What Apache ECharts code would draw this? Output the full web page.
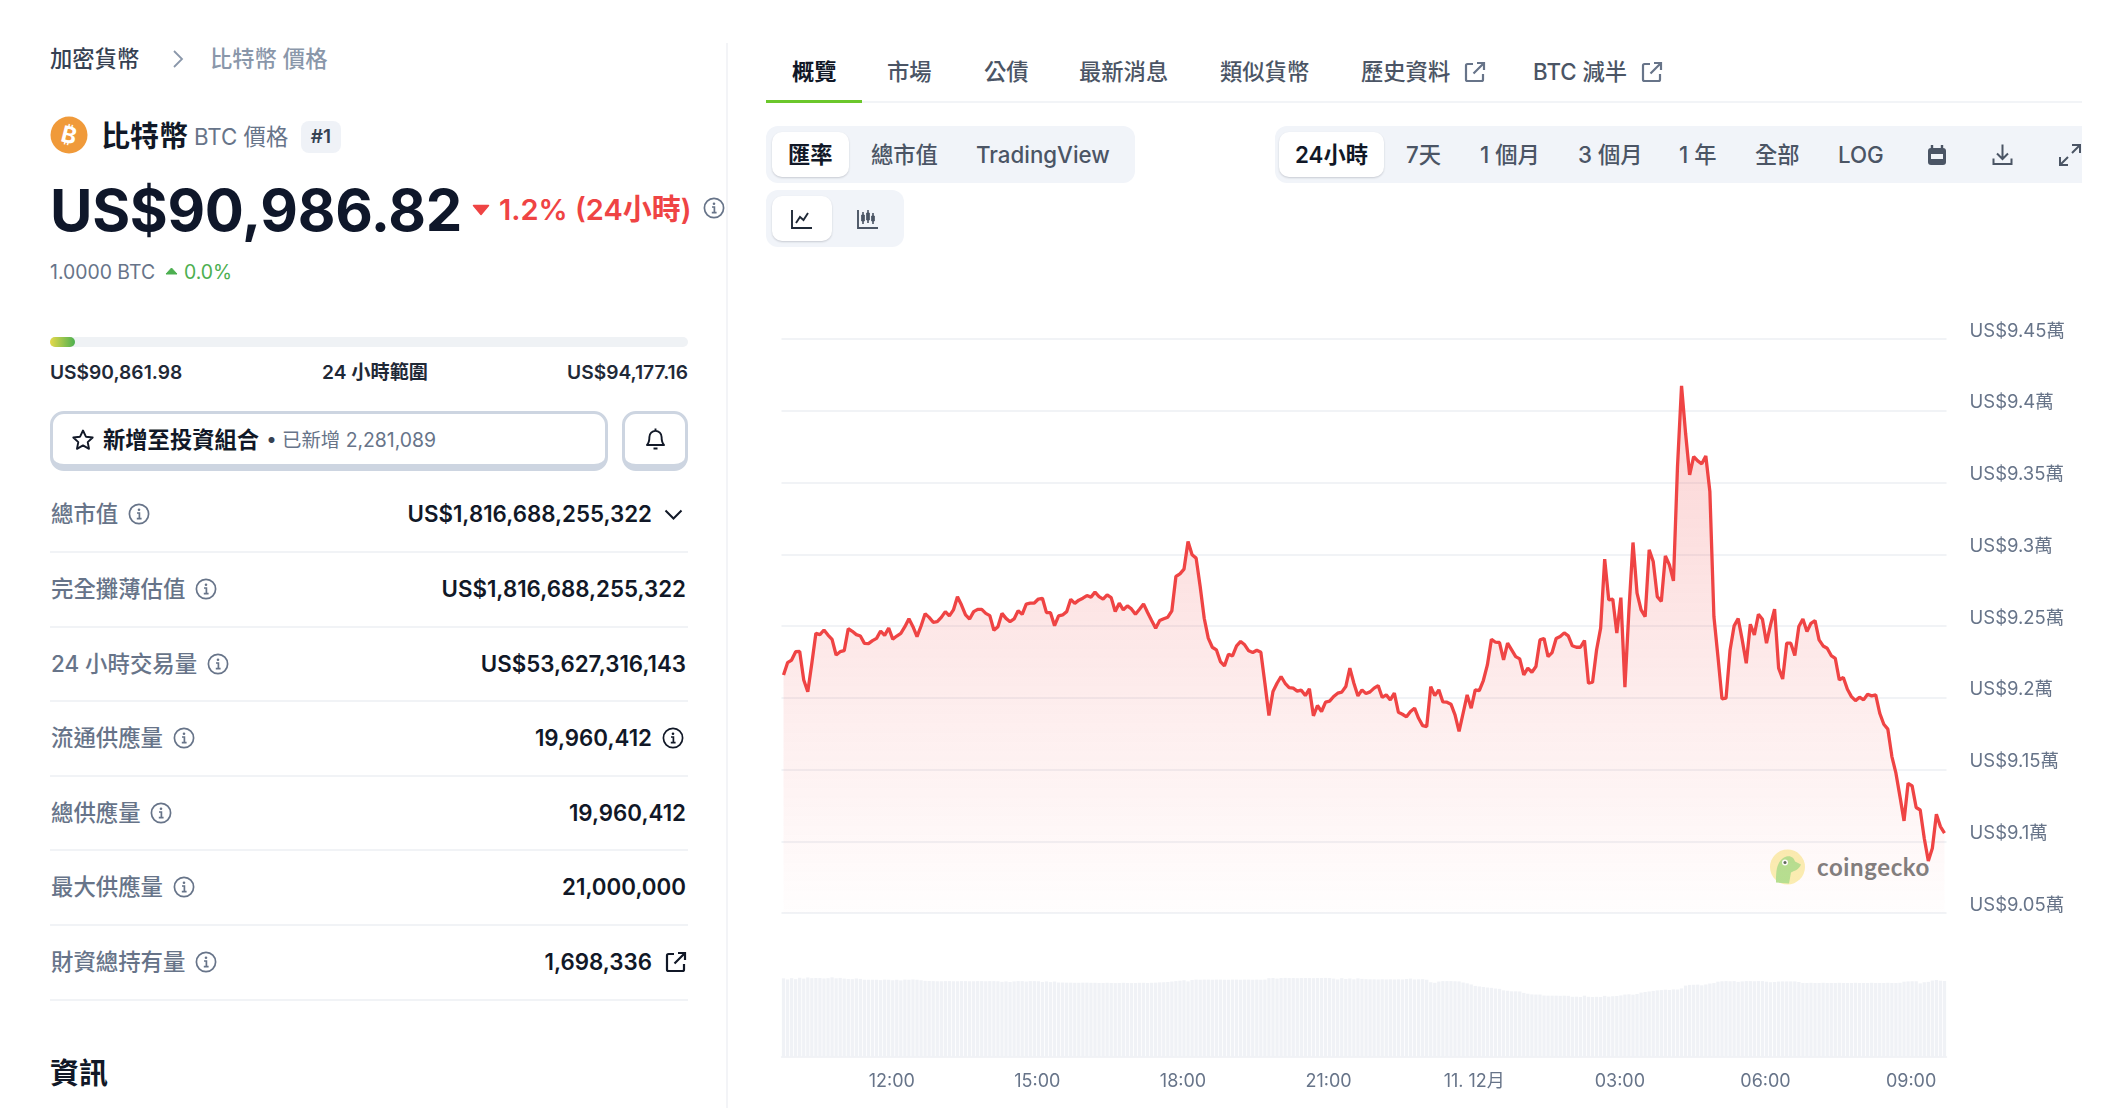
<!DOCTYPE html>
<html>
<head>
<meta charset="utf-8">
<title>比特幣 價格</title>
<script src="https://cdn.jsdelivr.net/npm/echarts@6/dist/echarts.min.js"></script>
<style>
html,body{margin:0;padding:0;background:#fff;}
body{width:2108px;height:1108px;overflow:hidden;position:relative;font-family:Inter,"Noto Sans CJK TC",sans-serif;color:#111827;}
.a{position:absolute;white-space:nowrap;transform:translateY(-50%);line-height:1.2;}
.b{position:absolute;}
.lab{font-size:22.4px;font-weight:500;color:#677489;left:51px;}
.val{font-size:22.3px;font-weight:600;color:#111827;}
.tab{font-size:22.3px;font-weight:500;color:#4b5565;top:72px;}
.sel{font-size:22.3px;font-weight:500;color:#4b5565;top:155px;}
.div{position:absolute;left:50px;width:638px;height:1.5px;background:#f1f3f6;}
svg.a{overflow:visible;}
#chart{position:absolute;left:760px;top:300px;width:1348px;height:808px;}
</style>
</head>
<body>
<svg width="0" height="0" style="position:absolute">
	<symbol id="info" viewBox="0 0 22 22"><circle cx="11" cy="11" r="9.6" fill="none" stroke="currentColor" stroke-width="1.7"/><circle cx="11" cy="6.8" r="1.3" fill="currentColor"/><path d="M9 10h2.4v5.2M8.8 15.6h4.8" fill="none" stroke="currentColor" stroke-width="1.7"/></symbol>
	<symbol id="ext" viewBox="0 0 22 22"><path d="M9 3H3.5A1.5 1.5 0 0 0 2 4.5v14A1.5 1.5 0 0 0 3.5 20h14a1.5 1.5 0 0 0 1.5-1.5V13M13 2h7v7M20 2 9.5 12.5" fill="none" stroke="currentColor" stroke-width="2.2"/></symbol>
</svg>

<!-- 左欄 -->
<div class="a" style="left:50px;top:59px;font-size:22.3px;font-weight:500;color:#364152">加密貨幣</div>
<svg class="a" style="left:172px;top:59px" width="12" height="20" viewBox="0 0 12 20"><path d="M2 2l8 8-8 8" fill="none" stroke="#8a97aa" stroke-width="1.8"/></svg>
<div class="a" style="left:210px;top:59px;font-size:22.3px;font-weight:500;color:#8a97aa">比特幣 價格</div>

<svg class="a" style="left:50px;top:135px" width="38" height="38" viewBox="0 0 38 38"><circle cx="19" cy="19" r="18.5" fill="#f09a3a"/><text x="19" y="27" text-anchor="middle" font-size="23" font-weight="700" fill="#fff" transform="rotate(14 19 19)" font-family="Inter">₿</text></svg>
<div class="a" style="left:101px;top:137px;font-size:29px;font-weight:700;color:#111827">比特幣</div>
<div class="a" style="left:194px;top:137px;font-size:22.3px;font-weight:400;color:#677489">BTC 價格</div>
<div class="a" style="left:301px;top:137px;width:40px;height:32px;line-height:32px;text-align:center;background:#eff2f7;border-radius:8px;font-size:19px;font-weight:600;color:#364152">#1</div>

<div class="a" style="left:50px;top:211px;font-size:58px;font-weight:700;color:#0f172a;letter-spacing:-0.3px">US$90,986.82</div>
<svg class="a" style="left:472px;top:210px" width="18" height="11" viewBox="0 0 18 11"><path d="M1.5 1h15L9 10z" fill="#ef4444" stroke="#ef4444" stroke-linejoin="round" stroke-width="1.5"/></svg>
<div class="a" style="left:499px;top:210px;font-size:29px;font-weight:600;color:#ef4444">1.2% (24小時)</div>
<svg class="a" style="left:703px;top:208px;color:#677489" width="22" height="22"><use href="#info"/></svg>

<div class="a" style="left:50px;top:273px;font-size:19.4px;font-weight:400;color:#677489">1.0000 BTC</div>
<svg class="a" style="left:165px;top:271px" width="13" height="8" viewBox="0 0 13 8"><path d="M1 7h11L6.5 1z" fill="#4caf50" stroke="#4caf50" stroke-linejoin="round"/></svg>
<div class="a" style="left:184px;top:273px;font-size:19.4px;font-weight:400;color:#4caf50">0.0%</div>

<div class="b" style="left:50px;top:337px;width:638px;height:10px;background:#eff2f5;border-radius:5px"></div>
<div class="b" style="left:50px;top:337px;width:25px;height:10px;background:linear-gradient(90deg,#e6d94a,#4cb050);border-radius:5px"></div>
<div class="a" style="left:50px;top:373px;font-size:19.2px;font-weight:600;color:#1f2937">US$90,861.98</div>
<div class="a" style="left:322px;top:373px;font-size:19.2px;font-weight:600;color:#1f2937">24 小時範圍</div>
<div class="a" style="right:1420px;top:373px;font-size:19.2px;font-weight:600;color:#1f2937">US$94,177.16</div>

<div class="b" style="left:50px;top:411px;width:552px;height:50px;border:3px solid #cdd5e1;border-bottom-width:7px;border-radius:14px;background:#fff"></div>
<svg class="a" style="left:71px;top:440px" width="24" height="24" viewBox="0 0 24 24"><path d="M12 2.5l2.9 6.2 6.8.8-5 4.6 1.3 6.7-6-3.4-6 3.4 1.3-6.7-5-4.6 6.8-.8z" fill="none" stroke="#111827" stroke-width="1.9" stroke-linejoin="round"/></svg>
<div class="a" style="left:103px;top:440px;font-size:22.3px;font-weight:600;color:#111827">新增至投資組合</div>
<div class="a" style="left:267px;top:440px;font-size:19px;font-weight:700;color:#364152">•</div>
<div class="a" style="left:282px;top:441px;font-size:19.4px;font-weight:400;color:#677489">已新增 2,281,089</div>
<div class="b" style="left:622px;top:411px;width:60px;height:50px;border:3px solid #cdd5e1;border-bottom-width:7px;border-radius:14px;background:#fff"></div>
<svg class="a" style="left:645px;top:439px" width="21" height="24" viewBox="0 0 21 24"><path d="M2 18c2-2 2.4-4 2.4-8a6.1 6.1 0 0 1 12.2 0c0 4 .4 6 2.4 8zM10.5 1.5v2M8.5 21.5h4" fill="none" stroke="#111827" stroke-width="1.9" stroke-linejoin="round"/></svg>

<div class="a lab" style="top:514px">總市值</div>
<svg class="a" style="left:128px;top:514px;color:#677489" width="22" height="22"><use href="#info"/></svg>
<div class="a val" style="right:1456px;top:514px">US$1,816,688,255,322</div>
<svg class="a" style="left:664px;top:515px" width="19" height="12" viewBox="0 0 19 12"><path d="M1.5 1.5l8 8 8-8" fill="none" stroke="#111827" stroke-width="2"/></svg>
<div class="div" style="top:551px"></div>

<div class="a lab" style="top:589px">完全攤薄估值</div>
<svg class="a" style="left:195px;top:589px;color:#677489" width="22" height="22"><use href="#info"/></svg>
<div class="a val" style="right:1422px;top:589px">US$1,816,688,255,322</div>
<div class="div" style="top:626px"></div>

<div class="a lab" style="top:664px">24 小時交易量</div>
<svg class="a" style="left:207px;top:664px;color:#677489" width="22" height="22"><use href="#info"/></svg>
<div class="a val" style="right:1422px;top:664px">US$53,627,316,143</div>
<div class="div" style="top:700px"></div>

<div class="a lab" style="top:738px">流通供應量</div>
<svg class="a" style="left:173px;top:738px;color:#677489" width="22" height="22"><use href="#info"/></svg>
<div class="a val" style="right:1456px;top:738px">19,960,412</div>
<svg class="a" style="left:662px;top:738px;color:#111827" width="22" height="22"><use href="#info"/></svg>
<div class="div" style="top:775px"></div>

<div class="a lab" style="top:813px">總供應量</div>
<svg class="a" style="left:150px;top:813px;color:#677489" width="22" height="22"><use href="#info"/></svg>
<div class="a val" style="right:1422px;top:813px">19,960,412</div>
<div class="div" style="top:849px"></div>

<div class="a lab" style="top:887px">最大供應量</div>
<svg class="a" style="left:173px;top:887px;color:#677489" width="22" height="22"><use href="#info"/></svg>
<div class="a val" style="right:1422px;top:887px">21,000,000</div>
<div class="div" style="top:924px"></div>

<div class="a lab" style="top:962px">財資總持有量</div>
<svg class="a" style="left:195px;top:962px;color:#677489" width="22" height="22"><use href="#info"/></svg>
<div class="a val" style="right:1456px;top:962px">1,698,336</div>
<svg class="a" style="left:665px;top:962px;color:#111827" width="22" height="22"><use href="#ext"/></svg>
<div class="div" style="top:999px"></div>

<div class="a" style="left:50px;top:1074px;font-size:29px;font-weight:700;color:#111827">資訊</div>
<div class="b" style="left:726px;top:43px;width:1.5px;height:1065px;background:#f3f4f7"></div>

<!-- 分頁 -->
<div class="a tab" style="left:792px;font-weight:600;color:#111827">概覽</div>
<div class="a tab" style="left:887px">市場</div>
<div class="a tab" style="left:984px">公債</div>
<div class="a tab" style="left:1079px">最新消息</div>
<div class="a tab" style="left:1220px">類似貨幣</div>
<div class="a tab" style="left:1361px">歷史資料</div>
<svg class="a" style="left:1464px;top:72px;color:#677489" width="22" height="22"><use href="#ext"/></svg>
<div class="a tab" style="left:1533px">BTC 減半</div>
<svg class="a" style="left:1641px;top:72px;color:#677489" width="22" height="22"><use href="#ext"/></svg>
<div class="b" style="left:766px;top:101px;width:1316px;height:2px;background:#f2f4f7"></div>
<div class="b" style="left:766px;top:100px;width:96px;height:3px;background:#6bc72b"></div>

<!-- 選項列 -->
<div class="b" style="left:766px;top:126px;width:369px;height:57px;background:#f1f4f9;border-radius:12px"></div>
<div class="b" style="left:772px;top:132px;width:77px;height:45px;background:#fff;border-radius:10px;box-shadow:0 1px 2px rgba(16,24,40,.18)"></div>
<div class="a sel" style="left:788px;font-weight:600;color:#111827">匯率</div>
<div class="a sel" style="left:871px">總市值</div>
<div class="a sel" style="left:976px">TradingView</div>

<div class="b" style="left:1275px;top:126px;width:807px;height:57px;background:#f1f4f9;border-radius:12px 0 0 12px"></div>
<div class="b" style="left:1279px;top:132px;width:105px;height:45px;background:#fff;border-radius:10px;box-shadow:0 1px 2px rgba(16,24,40,.18)"></div>
<div class="a sel" style="left:1295px;font-weight:600;color:#111827">24小時</div>
<div class="a sel" style="left:1406px">7天</div>
<div class="a sel" style="left:1480px">1 個月</div>
<div class="a sel" style="left:1578px">3 個月</div>
<div class="a sel" style="left:1679px">1 年</div>
<div class="a sel" style="left:1755px">全部</div>
<div class="a sel" style="left:1838px">LOG</div>
<svg class="a" style="left:1927px;top:155px" width="20" height="22" viewBox="0 0 20 22"><path d="M5 1v4M15 1v4" stroke="#4b5565" stroke-width="2.4"/><rect x="1" y="4" width="18" height="17" rx="3" fill="#4b5565"/><rect x="4" y="10" width="12" height="5" fill="#f1f4f9"/></svg>
<svg class="a" style="left:1992px;top:155px" width="21" height="23" viewBox="0 0 21 23"><path d="M10.5 1v14M5 10l5.5 5.5L16 10M1.5 15v5.5h18V15" fill="none" stroke="#4b5565" stroke-width="2"/></svg>
<svg class="a" style="left:2058px;top:155px" width="24" height="24" viewBox="0 0 24 24"><path d="M14 2h8v8M22 2l-8 8M10 22H2v-8M2 22l8-8" fill="none" stroke="#4b5565" stroke-width="2"/></svg>

<div class="b" style="left:766px;top:190px;width:138px;height:57px;background:#f1f4f9;border-radius:12px"></div>
<div class="b" style="left:772px;top:196px;width:60px;height:45px;background:#fff;border-radius:10px;box-shadow:0 1px 2px rgba(16,24,40,.18)"></div>
<svg class="a" style="left:791px;top:219px" width="22" height="20" viewBox="0 0 22 20"><path d="M1 1v18h20M5 14l4-6 3.5 3L17 4" fill="none" stroke="#1f2937" stroke-width="1.9"/></svg>
<svg class="a" style="left:857px;top:219px" width="22" height="20" viewBox="0 0 22 20"><path d="M1 1v18h20" fill="none" stroke="#4b5565" stroke-width="1.9"/><path d="M6 3v12M11 1v13M16 4v11" stroke="#4b5565" stroke-width="1.6"/><path d="M4.7 6h2.6v6H4.7zM9.7 4h2.6v7H9.7zM14.7 7h2.6v5h-2.6z" fill="#4b5565" stroke="#4b5565"/></svg>

<!-- 浮水印 -->
<svg class="a" style="left:1770px;top:867px" width="35" height="35" viewBox="0 0 35 35"><circle cx="17.5" cy="17.5" r="17.5" fill="#fbf0b4"/><path d="M6 33c0-10 0-20 8-25 6-3 10 0 11 4l6 3c-2 5-6 6-10 8l-2 11z" fill="#b6e292"/><circle cx="15" cy="13" r="3" fill="#fff"/><circle cx="15" cy="13" r="1.5" fill="#5a6b5a"/></svg>
<div class="a" style="left:1817px;top:867px;font-size:24px;font-weight:700;color:#7f8080;font-family:Lato,Inter,sans-serif;letter-spacing:0.6px">coingecko</div>

<div id="chart"></div>

<script>
// 價格 (USD)，每 5 分鐘一筆
var priceData = [
	92159,92244,92263,92321,92323,92124,92042,92240,92449,92440,92472,92437,92407,92298,92321,92328,92481,92463,92440,92430,
	92379,92377,92398,92414,92465,92435,92486,92409,92430,92449,92495,92551,92495,92426,92500,92586,92560,92526,92530,92560,
	92600,92570,92612,92704,92646,92577,92549,92600,92616,92616,92588,92572,92470,92495,92588,92553,92530,92549,92607,92581,
	92653,92660,92660,92688,92693,92593,92593,92502,92570,92577,92600,92686,92658,92680,
	92694,92712,92701,92736,92705,92687,92717,92698,92601,92659,92612,92640,92619,92582,92617,92654,92594,92538,92485,92538,
	92550,92561,92606,92845,92863,92896,93089,92996,92973,92775,92554,92415,92352,92334,92252,92222,92303,92292,92362,92392,
	92369,92327,92315,92331,92317,92101,91876,92043,92101,92148,92101,92071,92067,92046,92053,92015,92062,91874,91946,91904,
	91969,91976,92009,92032,92039,92078,92206,92101,92013,92055,92029,92041,92067,
	92085,92002,92020,91985,92032,91899,91885,91867,91904,91927,91857,91806,91799,92078,92015,92055,91971,91969,91955,91881,
	91765,91892,92020,91927,92055,92050,92120,92229,92408,92387,92385,92264,92380,92334,92287,92271,92160,92206,92178,92218,
	92403,92413,92287,92315,92413,92427,92452,92431,92362,92352,92352,92399,92101,92108,92334,92485,92966,92682,92687,92450,
	92698,92074,92612,93082,92729,92612,92566,93031,92949,92705,92671,92989,92926,
	92814,93611,94173,93843,93553,93681,93651,93630,93685,93437,92566,92287,91992,91997,92333,92501,92552,92403,92240,92512,
	92438,92582,92547,92380,92508,92617,92206,92131,92380,92380,92294,92496,92549,92461,92519,92538,92403,92361,92345,92294,
	92275,92124,92141,92059,92008,91980,92004,91985,92024,92013,92020,91892,91815,91781,91590,91474,91311,91142,91404,91386,
	91235,91218,91021,90863,90951,91188,91102,91056
];
// 成交量 (十億美元)
var volumeData = [
	56.2,55.4,56.3,55.6,56.6,56.0,56.8,56.3,56.4,56.4,56.1,56.3,56.9,56.2,56.5,56.0,55.7,55.6,56.1,55.8,
	55.2,55.2,55.2,55.2,54.9,55.3,55.2,54.8,55.2,54.7,55.3,55.2,55.4,55.2,54.8,54.4,54.3,54.2,
	54.1,54.1,54.2,54.2,54.1,54.1,54.2,54.2,54.1,54.1,54.2,54.2,54.1,54.2,54.2,54.1,53.7,54.0,53.6,54.0,54.2,
	54.2,53.9,54.2,54.2,54.1,53.6,54.0,53.5,53.9,53.2,53.2,53.1,53.1,53.0,53.0,53.1,53.1,53.0,
	53.0,52.9,52.9,53.0,52.9,52.8,52.9,53.0,52.9,52.8,52.9,53.0,53.0,52.9,53.0,53.1,53.3,53.4,53.6,53.9,
	54.2,54.5,54.8,54.0,55.0,55.3,55.2,55.3,55.3,55.2,55.3,55.3,55.2,55.2,55.3,55.3,55.2,55.3,55.3,55.2,55.3,55.2,55.3,
	56.3,56.4,56.0,56.4,56.5,56.4,56.4,56.3,56.4,56.4,56.4,56.3,56.4,56.4,56.5,56.4,56.0,55.4,56.3,
	55.7,56.1,55.5,56.2,55.8,55.6,55.5,55.5,55.4,55.5,55.4,55.5,55.4,55.5,55.4,55.7,56.0,55.4,55.5,55.6,
	55.2,53.4,53.0,53.9,54.2,54.2,54.2,54.1,54.0,53.2,52.6,51.8,
	50.8,50.4,50.0,49.6,49.4,48.9,48.7,47.6,47.3,46.9,46.9,46.8,
	45.8,45.2,44.7,44.6,44.6,43.9,43.8,43.8,43.8,43.7,43.8,43.7,
	43.0,43.1,42.9,43.8,43.0,42.9,43.0,42.9,43.7,43.1,43.4,43.6,44.0,44.6,44.8,44.5,45.0,46.0,
	46.4,46.8,47.2,47.6,47.8,48.1,47.9,48.3,48.2,49.0,51.0,51.5,51.6,51.7,51.2,51.8,52.5,52.8,
	53.8,54.1,54.2,54.1,54.2,53.7,54.0,54.2,54.2,54.1,54.2,54.2,
	53.8,53.4,53.6,53.9,54.0,54.0,54.0,54.0,53.6,
	52.9,52.9,53.0,52.9,52.9,53.0,52.9,52.9,52.9,53.0,52.9,52.9,52.9,53.0,52.9,52.9,52.9,53.0,52.9,52.9,52.9,53.0,52.9,52.9,53.0,
	53.8,54.0,54.1,54.1,52.6,53.4,53.7,54.6,55.0,54.5,54.3
];
// x 軸刻度
var tickTimes = ['12:00','15:00','18:00','21:00','00:00','03:00','06:00','09:00'];
var tickLabels = ['12:00','15:00','18:00','21:00','11. 12月','03:00','06:00','09:00'];

// 每 5 分鐘一格，從 09:45 開始
var categories = [];
for(var i=0;i<priceData.length;i++){
	var m = (9*60+45+i*5) % 1440;
	categories.push(('0'+Math.floor(m/60)).slice(-2)+':'+('0'+(m%60)).slice(-2));
}
function isTick(index, value){
	return tickTimes.indexOf(value) >= 0;
}

var fontName = 'Inter, "Noto Sans CJK TC", sans-serif';
var chart = echarts.init(document.getElementById('chart'), null, {renderer:'canvas'});
chart.setOption({
	animation: false,
	grid: [
		{left:21.5, width:1165, top:39, height:574},
		{left:21.5, width:1165, top:673, height:84}
	],
	xAxis: [
		{type:'category', gridIndex:0, data:categories, show:false},
		{
			type:'category', gridIndex:1, data:categories,
			axisLine:{lineStyle:{color:'#eef0f4', width:1.5}},
			axisTick:{interval:isTick, alignWithLabel:true, length:5, lineStyle:{color:'#e6e9ef', width:1.5}},
			axisLabel:{
				interval:isTick, margin:15.5, color:'#677489', fontSize:18, fontFamily:fontName, padding:[0,2,0,0],
				formatter:function(value){
					return tickLabels[tickTimes.indexOf(value)];
				}
			}
		}
	],
	yAxis: [
		{
			type:'value', gridIndex:0, position:'right', min:90500, max:94500, interval:500,
			axisLine:{show:false}, axisTick:{show:false},
			splitLine:{lineStyle:{color:'#f1f3f6', width:1.8}},
			axisLabel:{
				margin:23, color:'#677489', fontSize:18.5, fontFamily:fontName,
				verticalAlign:'bottom', lineHeight:16,
				formatter:function(v){
					return 'US$'+(v/10000)+'萬';
				}
			}
		},
		{type:'value', gridIndex:1, min:0, max:60, show:false}
	],
	series: [
		{
			name:'價格', type:'line', xAxisIndex:0, yAxisIndex:0, data:priceData,
			symbol:'none', lineStyle:{color:'#ef4444', width:3.3},
			areaStyle:{
				color:new echarts.graphic.LinearGradient(0,0,0,1,[
					{offset:0, color:'rgba(239,68,68,0.33)'},
					{offset:1, color:'rgba(239,68,68,0.01)'}
				])
			}
		},
		{
			name:'成交量', type:'bar', xAxisIndex:1, yAxisIndex:1, data:volumeData,
			barWidth:3.3, itemStyle:{color:'#f0f2f6'}
		}
	]
});
</script>
</body>
</html>
